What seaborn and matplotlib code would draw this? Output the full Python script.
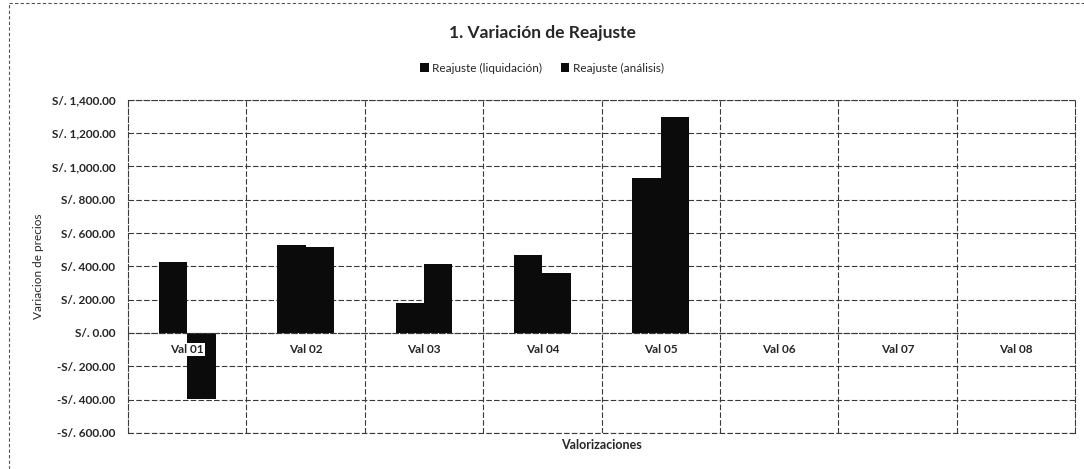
import pandas as pd
import matplotlib.pyplot as plt
import seaborn as sns
from matplotlib.ticker import FuncFormatter, MultipleLocator, FixedLocator
from matplotlib.patches import Patch
from matplotlib.lines import Line2D

# =====================
# Data
# =====================
categories = ['Val 01', 'Val 02', 'Val 03', 'Val 04', 'Val 05', 'Val 06', 'Val 07', 'Val 08']
series_names = ['Reajuste (liquidación)', 'Reajuste (análisis)']
reajuste_liquidacion = [426, 526, 180, 470, 932]
reajuste_analisis = [-394, 515, 412, 362, 1296]

rows = []
for cat, v in zip(categories, reajuste_liquidacion):
    rows.append({'Valorizacion': cat, 'Serie': series_names[0], 'Monto': v})
for cat, v in zip(categories, reajuste_analisis):
    rows.append({'Valorizacion': cat, 'Serie': series_names[1], 'Monto': v})
df = pd.DataFrame(rows)

# =====================
# Plot
# =====================
sns.set_style('white')
plt.rcParams['font.family'] = ['Lato', 'DejaVu Sans']

fig = plt.figure(figsize=(10.84, 4.69), dpi=100)
ax = fig.add_axes([0.118, 0.077, 0.874, 0.71])

bar_colors = ['#0b0b0b', '#0b0b0b']
sns.barplot(data=df, x='Valorizacion', y='Monto', hue='Serie', order=categories,
            hue_order=series_names, palette=bar_colors, width=0.48, gap=0,
            saturation=1, edgecolor='none', ax=ax)

ax.set_ylim(-600, 1400)
ax.set_xlim(-0.5, len(categories) - 0.5)
ax.yaxis.set_major_locator(MultipleLocator(200))

def soles(v, pos):
    s = f"S/. {abs(v):,.2f}"
    return '-' + s if v < 0 else s

ax.yaxis.set_major_formatter(FuncFormatter(soles))

grid_kw = dict(color='#3a3a3a', linewidth=0.8, linestyle=(0, (5, 2)))
ax.grid(axis='y', which='major', **grid_kw)
ax.xaxis.set_minor_locator(FixedLocator([i + 0.5 for i in range(len(categories) - 1)]))
ax.grid(axis='x', which='minor', **grid_kw)
ax.grid(axis='x', which='major', visible=False)
ax.set_axisbelow(True)
# category labels sit on top of the bars, like in the original
ax.xaxis.set_zorder(3)

for side in ['left', 'right', 'top', 'bottom']:
    ax.spines[side].set_visible(True)
    ax.spines[side].set_color('#3a3a3a')
    ax.spines[side].set_linewidth(0.8)
    ax.spines[side].set_linestyle((0, (5, 2)))
ax.spines['bottom'].set_position(('data', 0))

ax.tick_params(axis='x', which='both', length=0, pad=8, labelsize=8.5)
ax.tick_params(axis='y', length=0, pad=9, labelsize=8.5)
for lbl in ax.get_xticklabels() + ax.get_yticklabels():
    lbl.set_fontweight('bold')
ax.get_xticklabels()[0].set_bbox(dict(facecolor='white', edgecolor='none', pad=0.6))

ax.set_xlabel('')
ax.set_ylabel('Variacion de precios', fontsize=8.5)
ax.yaxis.set_label_coords(-0.089, 0.5)
ax.text(0.5, -0.036, 'Valorizaciones', transform=ax.transAxes, ha='center', va='center',
        fontsize=9, fontweight='bold')

# bottom border of the plot area
ax.axhline(-600, **grid_kw, clip_on=False)

ax.get_legend().remove()
handles = [Patch(facecolor=c, edgecolor='none') for c in bar_colors]
fig.legend(handles, series_names, loc='center', bbox_to_anchor=(0.5, 0.855), ncol=2,
           frameon=False, fontsize=8.5, handlelength=0.7, handleheight=0.7,
           handletextpad=0.3, columnspacing=1.6)

fig.text(0.5, 0.93, '1. Variación de Reajuste', ha='center', va='center',
         fontsize=12.5, fontweight='bold')

# outer chart frame (dashed, scanned look)
fig.add_artist(Line2D([0.008, 0.008], [0.0, 0.994], transform=fig.transFigure,
                      color='#555555', linewidth=0.8, linestyle=(0, (3, 2))))
fig.add_artist(Line2D([0.008, 1.0], [0.994, 0.994], transform=fig.transFigure,
                      color='#555555', linewidth=0.8, linestyle=(0, (3, 2))))

fig.savefig('out.png', dpi=100)
